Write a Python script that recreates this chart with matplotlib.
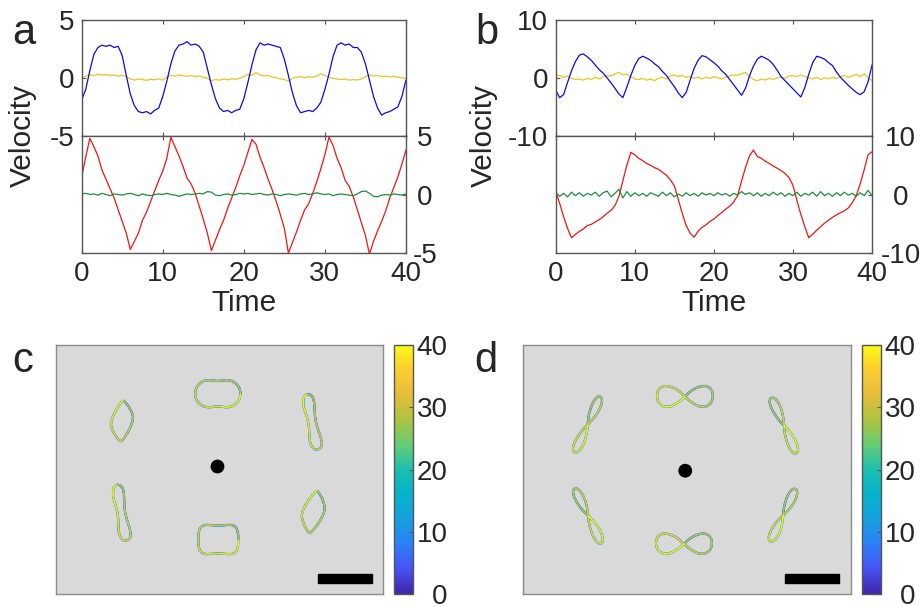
import numpy as np
import matplotlib
matplotlib.use("Agg")
import matplotlib.pyplot as plt
from matplotlib.collections import LineCollection
from matplotlib.colors import LinearSegmentedColormap, Normalize
from matplotlib.patches import Circle, Rectangle
from matplotlib.transforms import Affine2D
import matplotlib.cm as cm

plt.rcParams['font.family'] = ['Liberation Sans', 'DejaVu Sans']
plt.rcParams['axes.unicode_minus'] = False

# time grid of the velocity traces (read every 0.5 time units)
t = np.linspace(0, 40, 81)

# ---- panel a ----
a_blue = [-1.9, -1.0, 0.6, 2.0, 2.6, 2.8, 2.7, 2.8, 2.6, 2.7, 1.9, 0.2, -1.4, -2.4, -2.9, -3.0, -2.9, -3.1, -2.8, -2.6,
          -1.6, -0.3, 1.2, 2.3, 2.8, 2.9, 3.1, 2.8, 2.9, 2.7, 2.2, 0.8, -0.6, -1.8, -2.6, -2.9, -2.8, -3.0, -2.8, -2.7,
          -1.8, -0.4, 1.1, 2.4, 3.0, 2.8, 2.9, 2.8, 2.7, 2.6, 1.6, 0.2, -1.3, -2.4, -3.0, -2.9, -2.8, -2.9, -2.6, -2.1,
          -1.0, 0.3, 1.8, 2.8, 3.0, 2.8, 2.9, 2.6, 2.6, 2.2, 1.2, -0.2, -1.6, -2.6, -3.2, -3.0, -2.9, -2.7, -2.5, -1.6,
          -0.2]
a_yellow = [-0.05, 0.15, 0.25, 0.2, 0.3, 0.22, 0.28, 0.2, 0.24, 0.15, 0.22, 0.1, -0.1, -0.2, -0.1, -0.15, -0.22, -0.12,
            -0.18, -0.1, -0.2, 0.05, 0.2, 0.15, 0.25, 0.18, 0.12, 0.2, 0.1, 0.15, 0.05, -0.05, -0.25, -0.15, -0.2, -0.1,
            -0.18, -0.08, -0.12, -0.05, 0.1, 0.3, 0.2, 0.45, 0.25, 0.15, 0.2, 0.05, 0.0, -0.1, -0.15, -0.3, -0.05, 0.05,
            0.1, 0.0, 0.1, 0.05, 0.15, 0.35, 0.2, 0.05, -0.05, -0.1, -0.15, -0.1, -0.2, -0.15, -0.2, -0.1, 0.1, 0.25,
            0.15, 0.2, 0.1, 0.15, 0.08, 0.12, 0.05, 0.0, -0.05]
a_red = [1.5, 3.2, 4.8, 4.1, 3.3, 2.1, 1.3, 0.5, -0.3, -1.3, -2.3, -3.3, -4.7, -4.0, -3.3, -2.2, -1.5, -0.6, 0.3, 1.2,
         2.0, 3.1, 4.9, 4.1, 3.3, 2.4, 1.4, 0.9, 0.1, -1.0, -2.1, -3.3, -4.8, -3.9, -3.0, -2.2, -1.2, -0.3, 0.6, 1.6,
         2.5, 3.6, 4.7, 4.3, 3.2, 2.3, 1.3, 0.4, -0.6, -1.7, -2.9, -5.0, -4.1, -3.2, -2.2, -1.3, -0.8, 0.1, 1.1, 2.2,
         3.4, 4.9, 4.2, 3.1, 2.3, 1.2, 0.7, -0.2, -1.3, -2.4, -3.5, -5.1, -4.0, -3.1, -2.3, -1.4, -0.3, 0.6, 1.5, 2.6,
         3.8]
a_green = [0.05, 0.1, 0.0, 0.05, -0.05, 0.1, 0.0, -0.1, 0.05, 0.0, -0.05, 0.05, 0.1, 0.0, -0.1, 0.05, -0.05, -0.1, 0.0,
           0.05, 0.0, 0.1, 0.0, -0.05, -0.15, -0.05, 0.05, 0.0, 0.05, 0.1, 0.05, 0.25, 0.2, -0.05, -0.1, 0.0, 0.05,
           -0.05, 0.0, 0.1, 0.05, 0.1, 0.0, 0.05, 0.1, 0.0, -0.05, 0.05, 0.0, -0.1, 0.0, 0.05, 0.0, -0.05, 0.05, 0.1,
           0.0, 0.05, 0.15, 0.05, 0.0, 0.05, -0.1, 0.0, 0.05, 0.0, -0.05, -0.1, 0.05, 0.25, 0.3, 0.1, -0.15, -0.2,
           -0.05, 0.0, -0.05, 0.05, 0.0, -0.05, 0.05]

# ---- panel b ----
b_blue = [-2.1, -3.4, -2.9, -0.8, 1.2, 2.8, 3.9, 4.1, 3.6, 3.0, 2.2, 1.4, 0.8, 0.0, -0.9, -1.8, -2.8, -3.4, -1.6, 0.4,
          2.1, 3.3, 3.7, 3.4, 3.0, 2.4, 1.9, 1.1, 0.4, -0.6, -1.5, -2.6, -3.4, -2.5, -0.4, 1.6, 3.0, 3.8, 3.6, 3.1,
          2.6, 2.0, 1.2, 0.6, -0.3, -1.2, -2.1, -3.0, -1.8, 0.3, 2.0, 3.2, 3.7, 3.4, 3.0, 2.3, 1.3, 0.2, -0.5, -1.2,
          -1.9, -2.6, -3.3, -1.7, 0.6, 2.6, 3.7, 3.5, 3.2, 2.6, 2.1, 1.0, 0.1, -0.6, -1.3, -1.9, -2.5, -2.9, -2.4,
          -0.7, 2.2]
b_yellow = [0.2, 0.4, 0.1, 0.3, -0.1, -0.3, -0.2, -0.4, -0.1, -0.3, 0.1, -0.2, 0.2, 0.4, 0.3, 0.7, 0.9, 0.5, 0.6, 0.2,
            -0.2, -0.3, -0.1, -0.4, -0.2, -0.5, -0.1, 0.1, -0.2, 0.3, 0.5, 0.2, 0.4, 0.1, 0.2, -0.1, 0.1, -0.2, 0.1,
            -0.1, 0.2, 0.0, -0.2, 0.1, 0.3, 0.5, 0.4, 0.7, 0.9, 0.3, -0.3, -0.5, -0.2, -0.4, -0.1, -0.3, 0.0, 0.1,
            -0.1, 0.3, 0.4, 0.2, 0.5, 0.2, 0.0, -0.2, 0.1, -0.3, 0.0, -0.2, 0.1, -0.1, 0.2, 0.4, 0.1, 0.3, 0.6, 0.2,
            0.7, 0.0, -0.5]
b_red = [0.5, -1.5, -3.8, -5.8, -7.4, -6.8, -6.3, -5.9, -5.3, -5.1, -4.7, -4.3, -3.8, -3.2, -2.7, -1.9, -0.3, 2.4, 5.0,
         7.2, 6.8, 6.2, 5.8, 5.3, 5.0, 4.6, 4.3, 3.8, 3.3, 2.5, 1.5, -0.8, -3.2, -5.3, -6.6, -7.3, -6.3, -5.6, -5.2,
         -4.6, -4.2, -3.6, -3.1, -2.5, -2.0, -1.3, -0.2, 2.3, 4.6, 6.6, 7.6, 6.5, 6.2, 5.7, 5.3, 4.9, 4.5, 4.1, 3.6,
         2.9, 1.6, -1.0, -3.4, -5.5, -7.4, -6.8, -6.1, -5.5, -4.9, -4.4, -3.9, -3.5, -3.1, -2.8, -2.3, -1.4, -0.2,
         1.8, 4.2, 6.8, 7.3]
b_green = [0.3, -0.3, 0.2, -0.4, 0.4, -0.2, 0.3, -0.3, 0.2, -0.1, 0.4, -0.3, 0.3, 0.6, -0.4, 0.2, 0.9, -0.6, 0.5, -0.3,
           0.3, -0.2, 0.2, -0.3, 0.3, 0.0, -0.3, 0.4, -0.2, 0.3, -0.4, 0.1, -0.3, 0.3, -0.2, 0.2, -0.3, 0.3, -0.1,
           0.2, -0.2, 0.3, -0.1, 0.2, -0.3, 0.2, -0.1, 0.5, 0.0, 0.3, -0.2, 0.3, -0.3, 0.2, -0.2, 0.4, -0.1, 0.3,
           -0.3, 0.2, -0.2, 0.4, -0.3, 0.2, -0.1, 0.4, -0.3, 0.5, -0.2, 0.2, -0.3, 0.3, -0.2, 0.4, -0.1, 0.2, -0.3,
           0.3, -0.2, 0.7, -0.2]

# ---- panels c, d: cell outlines (local coords) ----
stadium_x = [0.228, 0.218, 0.188, 0.143, 0.091, 0.045, 0.0, -0.045, -0.091, -0.143, -0.188, -0.218,
             -0.228, -0.218, -0.188, -0.143, -0.091, -0.045, 0.0, 0.045, 0.091, 0.143, 0.188, 0.218]
stadium_y = [0.0, 0.052, 0.097, 0.127, 0.137, 0.131, 0.127, 0.131, 0.137, 0.127, 0.097, 0.052,
             0.0, -0.052, -0.097, -0.127, -0.137, -0.131, -0.127, -0.131, -0.137, -0.127, -0.097, -0.052]
squircle_x = [0.200, 0.197, 0.185, 0.160, 0.120, 0.060, 0.0, -0.060, -0.120, -0.160, -0.185, -0.197,
              -0.200, -0.197, -0.185, -0.160, -0.120, -0.060, 0.0, 0.060, 0.120, 0.160, 0.185, 0.197]
squircle_y = [0.0, 0.065, 0.110, 0.137, 0.147, 0.143, 0.140, 0.143, 0.147, 0.137, 0.110, 0.065,
              0.0, -0.065, -0.110, -0.137, -0.147, -0.143, -0.140, -0.143, -0.147, -0.137, -0.110, -0.065]
lens_x = [0.0, 0.03, 0.06, 0.085, 0.102, 0.108, 0.104, 0.09, 0.065, 0.035, 0.01,
          0.0, -0.03, -0.06, -0.085, -0.102, -0.108, -0.104, -0.09, -0.065, -0.035, -0.01]
lens_y = [0.205, 0.18, 0.145, 0.105, 0.07, 0.04, 0.0, -0.05, -0.11, -0.165, -0.2,
          -0.205, -0.18, -0.145, -0.105, -0.07, -0.04, 0.0, 0.05, 0.11, 0.165, 0.2]
bean_x = [0.0, 0.035, 0.055, 0.058, 0.05, 0.04, 0.038, 0.045, 0.055, 0.058, 0.048, 0.025,
          0.0, -0.03, -0.05, -0.058, -0.05, -0.04, -0.038, -0.045, -0.055, -0.04]
bean_y = [0.283, 0.27, 0.235, 0.19, 0.12, 0.05, -0.02, -0.09, -0.16, -0.22, -0.26, -0.28,
          -0.285, -0.275, -0.24, -0.19, -0.12, -0.05, 0.02, 0.09, 0.17, 0.25]
eight_x = [0.0, 0.05, 0.1, 0.16, 0.21, 0.25, 0.275, 0.28, 0.27, 0.245, 0.2, 0.15, 0.1, 0.05,
           0.0, -0.05, -0.1, -0.16, -0.21, -0.25, -0.275, -0.28, -0.27, -0.245, -0.2, -0.15, -0.1, -0.05]
eight_y = [0.0, 0.045, 0.075, 0.095, 0.098, 0.08, 0.045, 0.0, -0.04, -0.072, -0.092, -0.09, -0.07, -0.04,
           0.0, 0.045, 0.075, 0.095, 0.098, 0.08, 0.045, 0.0, -0.04, -0.072, -0.092, -0.09, -0.07, -0.04]

# placement: outline, centre x, centre y, rotation (deg), scale along, scale across
cells_c = [
    (stadium_x, stadium_y, -0.017, 0.758, 0, 1, 1),
    (squircle_x, squircle_y, -0.012, -0.700, 0, 1, 1),
    (lens_x, lens_y, -0.975, 0.485, -3.8, 1, 1),
    (lens_x, lens_y, 0.938, -0.425, -10.6, 1, 1.05),
    (bean_x, bean_y, 0.925, 0.478, 10.9, 1, 1),
    (bean_x, bean_y, -0.982, -0.430, 9.6, 1, 1),
]
cells_d = [
    (eight_x, eight_y, -0.02, 0.728, 0, 1.0, 1.1),
    (eight_x, eight_y, -0.03, -0.745, 0, 1.0, 1.07),
    (eight_x, eight_y, -0.992, 0.448, 65.3, 1.1, 0.46),
    (eight_x, eight_y, 0.972, 0.440, 114.2, 1.09, 0.46),
    (eight_x, eight_y, 0.963, -0.458, 64.4, 1.04, 0.46),
    (eight_x, eight_y, -0.987, -0.463, 115.9, 1.09, 0.46),
]
dot_c = (-0.02, 0.03)
dot_d = (-0.017, -0.012)
scalebar = (0.985, -1.138, 0.54, 0.093)
cbar_ticks = [0, 10, 20, 30, 40]

parula = LinearSegmentedColormap.from_list('parula', [
    (0.2422, 0.1504, 0.6603), (0.2810, 0.3228, 0.9579), (0.1707, 0.5060, 0.9700),
    (0.0900, 0.6300, 0.8700), (0.0200, 0.7000, 0.7900), (0.1000, 0.7500, 0.6900),
    (0.4000, 0.8000, 0.4500), (0.6800, 0.7700, 0.2500), (0.9000, 0.7400, 0.2300),
    (0.9900, 0.8000, 0.1900), (0.9769, 0.9839, 0.0805)])
norm = Normalize(0, 40)

SP = '#555555'
TXT = '#262626'
FS = 20

fig = plt.figure(figsize=(9.22, 6.07), dpi=100)


def style_ts(ax, lim, ticks, side, labelx):
    ax.set_xlim(0, 40)
    ax.set_ylim(-lim, lim)
    ax.set_xticks([0, 10, 20, 30, 40])
    ax.set_yticks(ticks)
    for s in ax.spines.values():
        s.set_color(SP)
        s.set_linewidth(1.0)
    ax.tick_params(direction='in', length=3, width=0.8, color=SP, labelsize=FS, labelcolor=TXT,
                   top=True, bottom=True, labelbottom=labelx, pad=6)
    if side == 'left':
        ax.tick_params(axis='y', left=True, right=False, labelleft=True, labelright=False, pad=5.5)
    else:
        ax.tick_params(axis='y', left=False, right=True, labelleft=False, labelright=True)


def ts_panel(x0, w, lim, blue, yellow, red, green, rpad, vx, letter, lx):
    ax1 = fig.add_axes([x0, 0.7759, w, 0.1919])
    ax2 = fig.add_axes([x0, 0.5832, w, 0.1927])
    ax1.plot(t, yellow, color='#e8c520', lw=0.9)
    ax1.plot(t, blue, color='#0a0ae6', lw=0.9)
    ax2.plot(t, red, color='#f01414', lw=0.9)
    ax2.plot(t, green, color='#1e8c3c', lw=0.9)
    style_ts(ax1, lim, [-lim, 0, lim], 'left', False)
    style_ts(ax2, lim, [-lim, 0, lim], 'right', True)
    ax2.tick_params(axis='y', pad=rpad)
    for tk in ax2.yaxis.get_major_ticks():
        tk.label2.set_horizontalalignment('center')
    ax2.set_xlabel('Time', fontsize=21.5, color=TXT, labelpad=1)
    fig.text(vx, 1 - 136 / 607, 'Velocity', rotation=90, ha='center', va='center', fontsize=21.5, color=TXT)
    fig.text(lx, 1 - 43.5 / 607, letter, fontsize=30, color=TXT, ha='left', va='baseline')


ts_panel(0.0886, 0.3517, 5, a_blue, a_yellow, a_red, a_green, 13.7, 23 / 922, 'a', 12 / 922)
ts_panel(0.6027, 0.3431, 10, b_blue, b_yellow, b_red, b_green, 20.5, 484 / 922, 'b', 475 / 922)


def cell_panel(x0, w, cells, dot, cx0, letter, lx):
    ax = fig.add_axes([x0, 0.0214, w, 0.4102])
    hw = w * 922 / 200
    ax.set_xlim(-hw, hw)
    ax.set_ylim(-1.245, 1.245)
    ax.set_facecolor('#d9d9d9')
    ax.set_xticks([])
    ax.set_yticks([])
    for s in ax.spines.values():
        s.set_color('#8c8c8c')
        s.set_linewidth(1.0)
    for ox, oy, cx, cy, rot, sx, sy in cells:
        px = list(ox) + [ox[0]]
        py = list(oy) + [oy[0]]
        pts = np.column_stack([px, py])
        segs = np.stack([pts[:-1], pts[1:]], axis=1)
        n = len(segs)
        tr = Affine2D().scale(sx, sy).rotate_deg(rot).translate(cx, cy) + ax.transData
        for lap, lw in zip(range(4), [1.6, 1.4, 1.2, 0.9]):
            tv = 10 * lap + 10 * (np.arange(n) + 0.5) / n
            lc = LineCollection(segs, cmap=parula, norm=norm, linewidths=lw, transform=tr)
            lc.set_array(tv)
            ax.add_collection(lc)
    ax.add_patch(Circle(dot, 0.062, color='black', zorder=5))
    bx, by, bw, bh = scalebar
    ax.add_patch(Rectangle((bx, by), bw, bh, color='black', zorder=5))
    cax = fig.add_axes([cx0, 0.0214, 0.0206, 0.4102])
    sm = cm.ScalarMappable(norm=norm, cmap=parula)
    cb = fig.colorbar(sm, cax=cax, ticks=cbar_ticks)
    cb.outline.set_edgecolor(SP)
    cb.outline.set_linewidth(1.0)
    cax.tick_params(direction='in', length=3, width=0.8, color=SP, labelsize=FS, labelcolor=TXT, pad=25)
    for tk in cax.yaxis.get_major_ticks():
        tk.label2.set_horizontalalignment('right')
    fig.text(lx, 1 - 371.5 / 607, letter, fontsize=30, color=TXT, ha='left', va='baseline')


cell_panel(0.0607, 0.3547, cells_c, dot_c, 0.4273, 'c', 12 / 922)
cell_panel(0.5672, 0.3557, cells_d, dot_d, 0.9349, 'd', 474 / 922)

fig.savefig('out.png', dpi=100)
